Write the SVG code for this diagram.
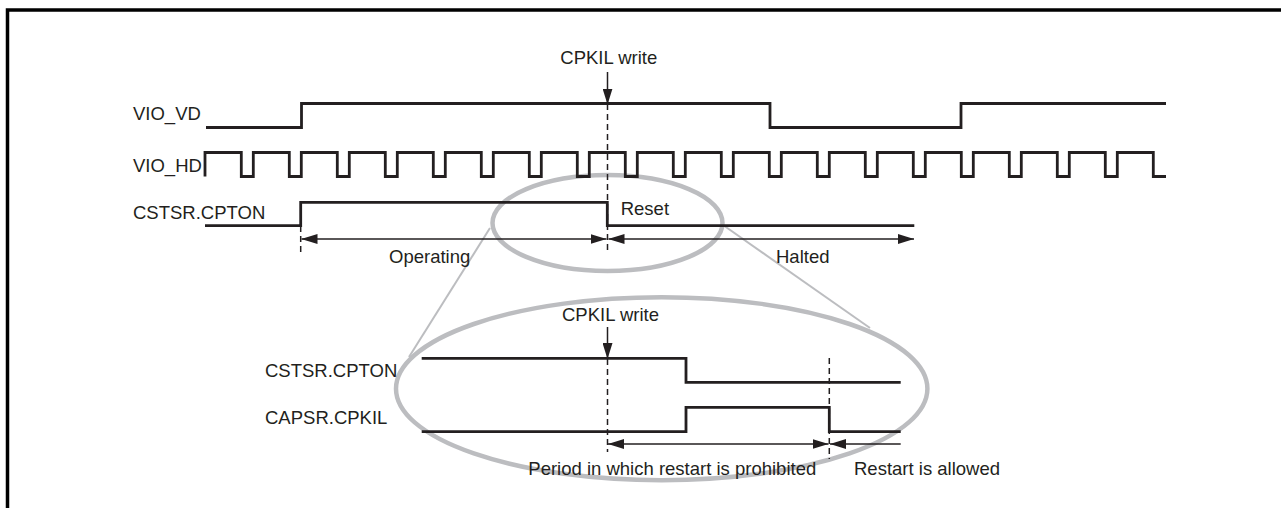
<svg xmlns="http://www.w3.org/2000/svg" width="1281" height="508" viewBox="0 0 1281 508">
<style>
text{font-family:"Liberation Sans",Arial,sans-serif;font-size:18.5px;fill:#231f20}
.w{fill:none;stroke:#231f20;stroke-width:2.8;stroke-linejoin:miter;stroke-linecap:butt}
.d{fill:none;stroke:#231f20;stroke-width:1.5;stroke-dasharray:6 4}
.a{fill:none;stroke:#231f20;stroke-width:1.5}
.g{fill:none;stroke:#bcbdc0;stroke-width:4.5}
.gl{fill:none;stroke:#bcbdc0;stroke-width:2}
</style>
<defs>
<marker id="ah" markerUnits="userSpaceOnUse" markerWidth="16" markerHeight="10" refX="16" refY="5" orient="auto-start-reverse">
<path d="M0,0 L16,5 L0,10 z" fill="#231f20"/>
</marker>
</defs>
<path d="M7.5,508 V10 H1281" fill="none" stroke="#000" stroke-width="3.5"/>
<g id="zoom">
<ellipse class="g" cx="607.5" cy="223" rx="115" ry="48"/>
<ellipse class="g" cx="661.7" cy="388.7" rx="265.7" ry="91.5"/>
<line class="gl" x1="490" y1="228" x2="409" y2="357"/>
<line class="gl" x1="723" y1="225" x2="870" y2="328"/>
</g>
<g id="labels">
<text x="608.8" y="64" text-anchor="middle">CPKIL write</text>
<text x="133" y="120">VIO_VD</text>
<text x="133" y="172">VIO_HD</text>
<text x="133" y="219">CSTSR.CPTON</text>
<text x="620.7" y="215">Reset</text>
<text x="389" y="263">Operating</text>
<text x="776" y="263">Halted</text>
<text x="610.5" y="320.7" text-anchor="middle">CPKIL write</text>
<text x="265" y="377">CSTSR.CPTON</text>
<text x="265" y="424">CAPSR.CPKIL</text>
<text x="528.3" y="475">Period in which restart is prohibited</text>
<text x="854" y="475">Restart is allowed</text>
</g>
<g id="waveforms">
<path id="vio_vd" class="w" d="M206,127.5 H301.5 V103.5 H770 V127.5 H961 V103.5 H1166"/>
<path id="vio_hd" class="w" d="M205,176.5 V152.5 H241.3 V176.5 H253.3 V152.5 H289.3 V176.5 H301.3 V152.5 H337.3 V176.5 H349.3 V152.5 H385.3 V176.5 H397.3 V152.5 H433.3 V176.5 H445.3 V152.5 H481.3 V176.5 H493.3 V152.5 H529.3 V176.5 H541.3 V152.5 H577.3 V176.5 H589.3 V152.5 H625.3 V176.5 H637.3 V152.5 H673.3 V176.5 H685.3 V152.5 H721.3 V176.5 H733.3 V152.5 H769.3 V176.5 H781.3 V152.5 H817.3 V176.5 H829.3 V152.5 H865.3 V176.5 H877.3 V152.5 H913.3 V176.5 H925.3 V152.5 H961.3 V176.5 H973.3 V152.5 H1009.3 V176.5 H1021.3 V152.5 H1057.3 V176.5 H1069.3 V152.5 H1105.3 V176.5 H1117.3 V152.5 H1153.3 V176.5 H1166"/>
<path id="cptonTop" class="w" d="M205,225.7 H300.7 V202.3 H607.3 V225.7 H914.3"/>
<path id="cptonBot" class="w" d="M421.7,358.3 H686 V382.3 H900.7"/>
<path id="cpkilBot" class="w" d="M421.7,431.7 H686 V407.3 H829.3 V431.7 H900.7"/>
</g>
<g id="connectors">
<line class="a" x1="607.5" y1="72" x2="607.5" y2="104.5" marker-end="url(#ah)"/>
<line class="d" x1="607.5" y1="104" x2="607.5" y2="252"/>
<line class="d" x1="300.7" y1="226" x2="300.7" y2="253"/>
<line class="a" x1="301.5" y1="239" x2="606.5" y2="239" marker-start="url(#ah)" marker-end="url(#ah)"/>
<line class="a" x1="608.5" y1="239" x2="914" y2="239" marker-start="url(#ah)" marker-end="url(#ah)"/>
<line class="a" x1="607.5" y1="327" x2="607.5" y2="359" marker-end="url(#ah)"/>
<line class="d" x1="607.5" y1="359" x2="607.5" y2="452"/>
<line class="d" x1="829.3" y1="358" x2="829.3" y2="459"/>
<line class="a" x1="608" y1="444" x2="828.5" y2="444" marker-start="url(#ah)" marker-end="url(#ah)"/>
<line class="a" x1="900.7" y1="444" x2="830" y2="444" marker-end="url(#ah)"/>
</g>
</svg>
